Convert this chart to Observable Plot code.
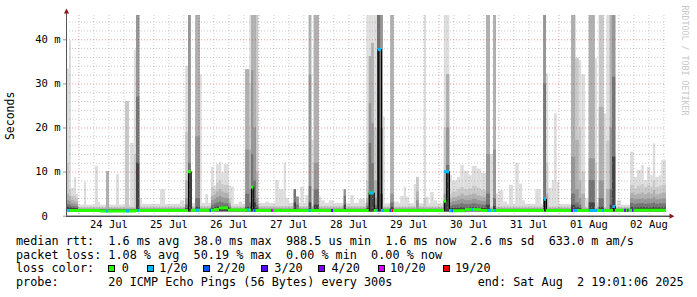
<!DOCTYPE html>
<html><head><meta charset="utf-8">
<script src="https://cdn.jsdelivr.net/npm/d3@7"></script>
<script src="https://cdn.jsdelivr.net/npm/@observablehq/plot@0.6"></script>
<style>
body{margin:0;background:#fff;width:697px;height:297px;overflow:hidden;font-family:"DejaVu Sans Mono",monospace;}
#chart svg{display:block}
#legend{position:relative;height:65px;font-size:11.8px;color:#000;}
#legend .t{position:absolute;white-space:pre;line-height:14px;}
#legend .b{position:absolute;width:5px;height:5px;border:1px solid #000;}
</style></head><body>
<div id="chart"></div><div id="legend"></div>
<script>
// time in hours since start (Jul 23 19:01:06 2025 .. Aug 2 19:01:06 2025)
const startUTC = Date.UTC(2025, 6, 23, 19, 1, 6);
const spanHours = 240;

// low "grass" smoke: [h0, h1, band1..band6 top in ms] (outer/lightest -> inner/darkest)
const grass = [
 [0, 4.8, 5, 4, 3.2, 2.6, 2.1, 1.7],
 [4.8, 28, 2.5, 2.0, 1.7, 1.55, 1.45, 1.35],
 [28, 48, 2.7, 2.1, 1.75, 1.6, 1.45, 1.35],
 [48, 58, 2.9, 2.2, 1.8, 1.6, 1.5, 1.4],
 [58, 59.1, 11.1, 6.5, 4.5, 3.5, 2.5, 1.8],
 [59.1, 60, 6.9, 6.0, 4.8, 3.8, 2.8, 2.0],
 [60, 61.1, 11.7, 7.5, 5.5, 4.2, 3.0, 2.1],
 [61.1, 62.1, 12.2, 8.0, 6.0, 4.5, 3.2, 2.2],
 [62.1, 63.1, 9.8, 7.2, 5.5, 4.2, 3.0, 2.1],
 [63.1, 65.1, 11.7, 7.0, 5.2, 4.0, 2.8, 2.0],
 [65.1, 66, 6.8, 4.0, 3.0, 2.4, 1.9, 1.6],
 [66, 76.8, 2.7, 2.1, 1.75, 1.6, 1.5, 1.4],
 [76.8, 120, 2.9, 2.2, 1.8, 1.6, 1.5, 1.4],
 [120, 153.2, 2.8, 2.1, 1.8, 1.6, 1.5, 1.4],
 [153.2, 154.4, 9.2, 5.0, 3.8, 3.0, 2.2, 1.7],
 [154.4, 156.4, 8.0, 5.5, 4.2, 3.3, 2.5, 1.8],
 [156.4, 157.7, 8.8, 6.0, 4.5, 3.5, 2.6, 1.8],
 [157.7, 159.1, 11.5, 6.5, 5.0, 3.8, 2.8, 1.9],
 [159.1, 160.9, 10.2, 6.0, 4.6, 3.5, 2.6, 1.8],
 [160.9, 162.3, 9.2, 6.2, 4.8, 3.6, 2.7, 1.9],
 [162.3, 164.3, 11.3, 6.8, 5.0, 3.8, 2.8, 1.9],
 [164.3, 165.9, 10.7, 6.3, 4.6, 3.5, 2.6, 1.8],
 [165.9, 168, 9.7, 5.8, 4.3, 3.3, 2.5, 1.8],
 [168, 201.6, 2.7, 2.1, 1.75, 1.6, 1.5, 1.4],
 [201.6, 225.6, 2.5, 2.0, 1.7, 1.55, 1.45, 1.35],
 [225.6, 227.1, 14.5, 7.0, 5.2, 4.0, 2.9, 2.0],
 [227.1, 228.4, 8.8, 6.2, 4.8, 3.7, 2.7, 1.9],
 [228.4, 230.1, 10.4, 6.8, 5.0, 3.8, 2.8, 1.9],
 [230.1, 231.1, 11.5, 7.2, 5.3, 4.0, 2.9, 2.0],
 [231.1, 232.4, 8.1, 6.5, 4.9, 3.7, 2.7, 1.9],
 [232.4, 233.7, 11.1, 7.0, 5.2, 3.9, 2.8, 1.9],
 [233.7, 234.7, 9.2, 6.6, 5.0, 3.8, 2.8, 1.9],
 [234.7, 235.7, 16.4, 8.0, 5.8, 4.2, 3.0, 2.0],
 [235.7, 237.1, 8.8, 6.5, 4.8, 3.7, 2.7, 1.9],
 [237.1, 238.1, 9.2, 6.8, 5.0, 3.8, 2.8, 1.9],
 [238.1, 240, 12.6, 7.0, 5.2, 3.9, 2.8, 1.9]
];

// spikes: [h0, h1, band tops in ms...] (60 = off the top)
const spikes = [
 [0.2, 1.2, 33.4, 12, 5, 3.5, 2.6, 2],
 [1.2, 2, 39.7, 6, 4.5, 3.3, 2.5, 1.9],
 [2, 3.2, 6.3, 4.5, 3.6, 2.8, 2.2, 1.8],
 [3.2, 4, 8.8, 4.5, 3.4, 2.7, 2.1, 1.7],
 [7.2, 8, 7.7],
 [11.6, 12.8, 11.3],
 [12.8, 13.6, 3.1],
 [16, 17.2, 10.1, 10.1, 10.1],
 [20, 21.2, 9.4],
 [23.6, 25.2, 26, 26],
 [25.6, 27.1, 16.5],
 [27.1, 28, 37.6, 14],
 [28, 29.3, 60, 60, 60, 60, 27, 12],
 [29.3, 30.4, 4],
 [37.6, 39.6, 6],
 [45.6, 47.2, 3.5],
 [47.7, 48.8, 34, 19, 8, 4, 2.5, 1.8],
 [48.8, 49.9, 60, 60, 60, 60, 12, 10.1],
 [51.7, 53.6, 60, 60, 60, 18, 4, 2],
 [53.6, 54.3, 32],
 [55.7, 56.8, 4.9],
 [66, 67.1, 6.6],
 [69.1, 70.4, 3.2],
 [71.7, 73.3, 33.2, 33.2, 33.2, 15, 5, 2],
 [73.3, 74, 60, 30, 15, 6, 3, 2],
 [74, 74.9, 60, 60, 60, 33, 14, 6.6],
 [74.9, 76, 60, 60, 60, 20, 8, 3],
 [76, 76.9, 60, 60, 10, 4, 2.5, 1.8],
 [79.7, 81.3, 3.2],
 [83.7, 85.1, 8.1],
 [85.1, 87.1, 6],
 [87.1, 88, 12],
 [88, 89.1, 4],
 [91.1, 92, 6, 6, 6, 6, 6, 3],
 [92, 93.1, 4.3, 4.3, 4.3, 4.3, 2.5],
 [93.7, 95.1, 6.6],
 [95.7, 97.1, 4.7],
 [97.1, 98.1, 60, 60, 60, 32, 6.7, 3],
 [98.1, 99.1, 17.2],
 [99.1, 101.1, 60, 60, 60, 12, 6, 2.5],
 [101.1, 102.1, 4.3],
 [102.1, 103.5, 3.5],
 [105.1, 107.1, 3.5],
 [111.1, 112, 6, 6, 6, 6, 4.5, 2.5],
 [113.7, 115.1, 4.7],
 [117.1, 119.5, 3.8],
 [120.1, 121.1, 60, 8, 4, 3, 2.2, 1.7],
 [121.1, 122.1, 60, 36.2, 36.2, 25.5, 16.5, 5.3],
 [122.1, 123.1, 60, 39.2, 39.2, 21, 12, 5.3],
 [123.1, 124.4, 60, 20, 8, 4, 2.5, 1.8],
 [124.4, 125.7, 60, 60, 60, 60, 60, 37.8],
 [125.7, 126.7, 60, 60, 60, 60, 20, 5],
 [126.7, 127.5, 22.5],
 [129.7, 131.1, 60, 60, 60, 5, 3, 2],
 [131.1, 133.1, 3.2],
 [133.7, 135.1, 4.5],
 [135.1, 136, 6.6],
 [136, 137.2, 4.3],
 [139.1, 140, 7.2],
 [140, 141.1, 8.8, 8.8, 5.5, 3.5],
 [143.1, 144, 60, 4],
 [144, 145.1, 4.3],
 [145.7, 147.1, 5.4],
 [147.1, 148.4, 3.5],
 [151.1, 152, 60, 20, 10, 5, 3.4, 3.4],
 [152, 153.3, 60, 32.1, 32.1, 20, 11.5, 10.1],
 [168, 169.6, 60, 60, 60, 14, 5, 2.5],
 [169.6, 170.8, 14],
 [170.8, 172, 60, 60, 60, 15, 4, 2.2],
 [172, 172.8, 5],
 [172.9, 174.9, 5.8],
 [174.9, 176.3, 3.2],
 [177.2, 178.8, 7],
 [179.7, 181.1, 12],
 [181.1, 182.4, 7.3],
 [182.4, 183.6, 3.5],
 [187.7, 189.9, 6],
 [190.9, 192, 60, 60, 60, 60, 30, 3.9],
 [192, 192.9, 32.3, 12, 5],
 [192.9, 194.3, 6.3],
 [194.3, 195.2, 8.1],
 [195.2, 196.3, 23.2],
 [196.3, 197.3, 7.7],
 [202, 203.7, 60, 60, 60, 13.4, 5, 2.5],
 [203.7, 205.1, 35.7, 35.7, 17.2, 6, 3, 2],
 [205.1, 206.1, 35.3, 20, 8, 4, 2.5, 1.8],
 [206.1, 207.6, 32.1, 10, 5],
 [207.6, 209.1, 4],
 [209.1, 211.5, 60, 60, 60, 13, 8.1, 3],
 [211.5, 212.4, 35.7, 12],
 [212.4, 213.1, 3],
 [213.1, 215.1, 60, 60, 24.7, 8, 4, 2],
 [215.1, 216.1, 23.2],
 [216.1, 217.5, 60, 17, 6],
 [217.5, 218.4, 60, 60, 60, 20, 6, 2.5],
 [218.4, 219.7, 60, 60, 60, 60, 31.5, 13.4],
 [220.4, 222.1, 3.5],
 [222.1, 223.7, 2]
];

// median rtt runs: [h0, h1, ms]
const median = [
 [0, 13.6, 1.3], [13.6, 28, 1.2], [28, 48.8, 1.3], [48.8, 49.9, 10.1],
 [49.9, 59.2, 1.35], [59.2, 61.2, 1.5], [61.2, 64.8, 1.9], [64.8, 74, 1.4],
 [74, 74.9, 6.6], [74.9, 121.1, 1.3], [121.1, 123.1, 5.3], [123.1, 124.7, 1.3],
 [124.7, 126, 37.8], [126, 151.2, 1.3], [151.2, 152.1, 3.4], [152.1, 153.2, 10.1],
 [153.2, 159.6, 1.25], [159.6, 166, 1.5], [166, 191.2, 1.3], [191.2, 192, 3.9],
 [192, 218.8, 1.3], [218.8, 219.6, 2.2], [219.6, 240, 1.35]
];

// packet loss runs (out of 20), where not 0: [h0, h1, lost]
const lossRuns = [
 [0.8, 1.6, 1], [16, 16.8, 1], [24, 25.2, 1], [28.4, 29.2, 1], [52, 53.2, 1],
 [57.4, 58, 2], [72.4, 73.2, 1], [75.2, 75.8, 2], [82, 83, 10], [97, 97.8, 1],
 [106, 106.8, 3], [121.2, 122.8, 1], [124.2, 124.6, 1], [124.8, 126, 1],
 [126.4, 127.2, 1], [129.4, 130, 2], [130.2, 130.8, 19], [151.2, 153.2, 1],
 [153.4, 154, 1], [154.2, 154.8, 2], [162.2, 162.8, 1], [168.4, 170, 1],
 [171.2, 172, 1], [191.2, 192, 1], [202, 202.8, 4], [203.2, 204.4, 1],
 [209.2, 212.4, 1], [214.4, 215.2, 1], [218.6, 219.6, 1], [223.2, 224, 4],
 [224.4, 225, 4], [226.4, 227, 3]
];

const lossLevels = [0, 1, 2, 3, 4, 10, 19];
const lossLabels = ["0", "1/20", "2/20", "3/20", "4/20", "10/20", "19/20"];
const lossColors = ["#26ff00", "#00b8ff", "#0059ff", "#5e00ff", "#7e00ff", "#dd00ff", "#ff0000"];

const xTickLabels = ["24 Jul","25 Jul","26 Jul","27 Jul","28 Jul","29 Jul","30 Jul","31 Jul","01 Aug","02 Aug"];
const yTicks = [0, 10, 20, 30, 40];
const yTickLabels = ["0\u00a0\u00a0", "10 m", "20 m", "30 m", "40 m"];

const legendLines = [
 "median rtt:  1.6 ms avg  38.0 ms max  988.5 us min  1.6 ms now  2.6 ms sd  633.0 m am/s",
 "packet loss: 1.08 % avg  50.19 % max  0.00 % min  0.00 % now",
 "loss color:",
 "probe:       20 ICMP Echo Pings (56 Bytes) every 300s            end: Sat Aug  2 19:01:06 2025"
];

// ---------- build ----------
const T = h => new Date(startUTC + h * 3600e3);
const bandColors = ["#dddddd", "#c9c9c9", "#b0b0b0", "#969696", "#747474", "#434343"];
const LO = 1.0;
const yMax = 45.51;

const rects = [];
for (let k = 0; k < 6; k++) {
  for (const r of grass.concat(spikes)) {
    if (r[2 + k] != null) rects.push({t0: T(r[0]), t1: T(r[1]), hi: r[2 + k], fill: bandColors[k]});
  }
}
const medPts = median.flatMap(([a, b, v]) => [{t: T(a), v}, {t: T(b), v}]);
const segs = median.map(([a, b, v]) => ({a: T(a), b: T(b), v, c: lossColors[0]}));
for (const [a, b, l] of lossRuns) {
  const mid = (a + b) / 2;
  const m = median.find(r => r[0] <= mid && mid < r[1]);
  segs.push({a: T(a), b: T(b), v: m[2], c: lossColors[lossLevels.indexOf(l)]});
}

const day0 = new Date(Date.UTC(2025, 6, 24));
const xTickDates = xTickLabels.map((_, i) => new Date(+day0 + i * 864e5 + 12 * 3600e3));
const minorX = d3.utcHour.every(6).range(T(0), T(spanHours)).filter(d => d.getUTCHours() !== 0);
const majorX = d3.utcDay.range(T(0), T(spanHours));
const minorY = d3.range(2, 46, 2).filter(v => v % 10 !== 0);
const majorY = [10, 20, 30, 40];

const triUp = {draw(c, s) { const r = Math.sqrt(s) / 1.6; c.moveTo(0, -r); c.lineTo(r * 0.9, r * 0.7); c.lineTo(-r * 0.9, r * 0.7); c.closePath(); }};
const triRight = {draw(c, s) { const r = Math.sqrt(s) / 1.6; c.moveTo(r, 0); c.lineTo(-r * 0.7, r * 0.9); c.lineTo(-r * 0.7, -r * 0.9); c.closePath(); }};

const chart = Plot.plot({
  width: 697, height: 232,
  marginLeft: 66, marginRight: 31, marginTop: 15, marginBottom: 16.3,
  style: {fontFamily: "DejaVu Sans Mono", fontSize: "10.5px", background: "#fff", color: "#000"},
  x: {type: "utc", domain: [T(0), T(spanHours)]},
  y: {domain: [0, yMax]},
  color: {type: "identity"},
  marks: [
    Plot.rect(rects, {x1: "t0", x2: "t1", y1: () => LO, y2: "hi", fill: "fill", inset: 0, clip: true}),
    Plot.ruleY(minorY, {stroke: "#999", strokeOpacity: 0.5, strokeDasharray: "1,2"}),
    Plot.ruleX(minorX, {stroke: "#999", strokeOpacity: 0.5, strokeDasharray: "1,2"}),
    Plot.ruleY(majorY, {stroke: "#c03030", strokeOpacity: 0.45, strokeDasharray: "1,2"}),
    Plot.ruleX(majorX, {stroke: "#c03030", strokeOpacity: 0.45, strokeDasharray: "1,2"}),
    Plot.line(medPts, {x: "t", y: "v", stroke: "#000", strokeWidth: 1, clip: true}),
    Plot.ruleY(segs, {x1: "a", x2: "b", y: "v", stroke: "c", strokeWidth: 3}),
    Plot.ruleX([T(0)], {y1: 0, y2: yMax + 0.6, stroke: "#555"}),
    Plot.ruleY([0], {x1: T(0), x2: T(spanHours + 2.2), stroke: "#000"}),
    Plot.dot([0], {x: () => T(0), y: () => yMax, dy: -4, symbol: triUp, r: 2.6, fill: "#8b1a1a", stroke: null}),
    Plot.dot([0], {x: () => T(spanHours), y: () => 0, dx: 5, symbol: triRight, r: 2.6, fill: "#8b1a1a", stroke: null}),
    Plot.axisX(xTickDates, {tickFormat: d => xTickLabels[xTickDates.findIndex(e => +e === +d)], tickSize: 0, tickPadding: 4.3, label: null, fontSize: 10.5}),
    Plot.axisY(yTicks, {tickFormat: d => yTickLabels[yTicks.indexOf(d)], tickSize: 3, tickPadding: 3, stroke: "#999", label: null, fontSize: 10.5}),
    Plot.text(["Seconds"], {frameAnchor: "left", dx: -56, rotate: -90, fontSize: 11.5, textAnchor: "middle"}),
    Plot.text(["RRDTOOL / TOBI OETIKER"], {frameAnchor: "top-right", dx: 21.5, dy: -10, rotate: 90, textAnchor: "start", fontSize: 8.3, fill: "#c8c8c8"})
  ]
});
document.getElementById("chart").appendChild(chart);

// ---------- legend ----------
const lg = document.getElementById("legend");
const tops = [1.5, 15.5, 29, 43];
legendLines.forEach((s, i) => {
  const el = document.createElement("div");
  el.className = "t"; el.textContent = s;
  el.style.left = "16px"; el.style.top = tops[i] + "px";
  lg.appendChild(el);
});
const boxX = [108, 146.5, 203, 261, 318, 378.3, 442.7];
const labX = [121.7, 159.3, 216.7, 274.3, 331.5, 390, 455];
lossLabels.forEach((lab, i) => {
  const b = document.createElement("div");
  b.className = "b"; b.style.left = boxX[i] + "px"; b.style.top = "33px";
  b.style.background = lossColors[i];
  lg.appendChild(b);
  const t = document.createElement("div");
  t.className = "t"; t.textContent = lab;
  t.style.left = labX[i] + "px"; t.style.top = tops[2] + "px";
  lg.appendChild(t);
});
</script>
</body></html>
